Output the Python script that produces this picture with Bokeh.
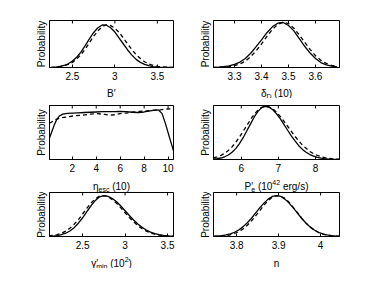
import math
from bokeh.plotting import figure
from bokeh.layouts import row, column
from bokeh.models import FixedTicker, Range1d
from bokeh.core.properties import value
from bokeh.embed import file_html
from bokeh.resources import INLINE

FONT = "Liberation Sans"

# ---------------- data ----------------
# Panel 1: B'
b_x = [2.25, 2.30, 2.35, 2.40, 2.45, 2.50, 2.55, 2.60, 2.65, 2.70, 2.75, 2.80, 2.85, 2.90, 2.95,
       3.00, 3.05, 3.10, 3.15, 3.20, 3.25, 3.30, 3.35, 3.40, 3.45, 3.50, 3.55, 3.60, 3.65, 3.70]
b_solid = [0.005, 0.011, 0.023, 0.047, 0.087, 0.15, 0.24, 0.36, 0.51, 0.67, 0.82, 0.93, 0.995, 0.99, 0.93,
           0.83, 0.69, 0.55, 0.41, 0.29, 0.19, 0.12, 0.073, 0.042, 0.022, 0.011, 0.005, 0.002, 0.001, 0.0]
b_dash = [0.004, 0.01, 0.02, 0.039, 0.071, 0.12, 0.20, 0.30, 0.43, 0.58, 0.73, 0.86, 0.955, 1.0, 0.98,
          0.92, 0.82, 0.69, 0.55, 0.42, 0.30, 0.21, 0.135, 0.083, 0.05, 0.027, 0.014, 0.007, 0.003, 0.001]
b_ticks = [2.5, 3, 3.5]
b_labels = ["2.5", "3", "3.5"]

# Panel 2: delta_D (10)
d_x = [3.22, 3.24, 3.26, 3.28, 3.30, 3.32, 3.34, 3.36, 3.38, 3.40, 3.42, 3.44, 3.46, 3.48,
       3.50, 3.52, 3.54, 3.56, 3.58, 3.60, 3.62, 3.64, 3.66, 3.68]
d_solid = [0.003, 0.008, 0.017, 0.035, 0.068, 0.12, 0.20, 0.315, 0.46, 0.61, 0.77, 0.90, 0.98, 0.996,
           0.93, 0.81, 0.64, 0.47, 0.32, 0.20, 0.11, 0.06, 0.029, 0.013]
d_dash = [0.001, 0.004, 0.009, 0.019, 0.041, 0.08, 0.14, 0.24, 0.37, 0.52, 0.69, 0.84, 0.955, 1.0,
          0.97, 0.87, 0.72, 0.56, 0.40, 0.26, 0.16, 0.09, 0.047, 0.023]
d_ticks = [3.3, 3.4, 3.5, 3.6]
d_labels = ["3.3", "3.4", "3.5", "3.6"]

# Panel 3: eta_esc (10)
e_x_solid = [0.1, 0.3, 0.5, 0.7, 0.9, 1.2, 1.6, 2.0, 2.5, 3.0, 3.5, 4.0, 4.5, 5.0, 5.5, 6.0, 6.5,
             7.0, 7.5, 8.0, 8.5, 9.0, 9.2, 9.5, 9.8, 10.1, 10.45]
e_solid = [0.40, 0.52, 0.64, 0.74, 0.80, 0.84, 0.855, 0.86, 0.865, 0.87, 0.875, 0.88, 0.885, 0.885,
           0.885, 0.89, 0.885, 0.875, 0.87, 0.88, 0.90, 0.92, 0.915, 0.85, 0.65, 0.42, 0.16]
e_x_dash = [0.1, 0.6, 1.0, 1.6, 2.2, 2.9, 3.5, 4.1, 4.7, 5.2, 5.6, 6.0, 6.5, 7.1, 7.6, 8.2, 8.8,
            9.35, 9.9, 10.45]
e_dash = [0.67, 0.74, 0.77, 0.79, 0.81, 0.82, 0.84, 0.85, 0.835, 0.82, 0.83, 0.85, 0.86, 0.88,
          0.89, 0.90, 0.91, 0.92, 0.935, 0.94]
e_ticks = [2, 4, 6, 8, 10]
e_labels = ["2", "4", "6", "8", "10"]

# Panel 4: P'_e (10^42 erg/s)
p_x = [5.25, 5.35, 5.45, 5.55, 5.65, 5.75, 5.85, 5.95, 6.05, 6.15, 6.25, 6.35, 6.45, 6.55, 6.65,
       6.75, 6.85, 6.95, 7.05, 7.15, 7.25, 7.35, 7.45, 7.55, 7.65, 7.75, 7.85, 7.95, 8.05, 8.15,
       8.25, 8.35, 8.45, 8.55, 8.65]
p_solid = [0.008, 0.015, 0.028, 0.051, 0.085, 0.135, 0.205, 0.30, 0.41, 0.54, 0.67, 0.80, 0.905, 0.975, 1.0,
           0.984, 0.936, 0.86, 0.77, 0.66, 0.55, 0.445, 0.35, 0.26, 0.19, 0.135, 0.093, 0.062, 0.039, 0.024,
           0.015, 0.008, 0.005, 0.003, 0.001]
p_dash = [0.031, 0.05, 0.077, 0.115, 0.17, 0.236, 0.32, 0.42, 0.53, 0.64, 0.75, 0.85, 0.93, 0.98, 1.0,
          0.987, 0.95, 0.89, 0.81, 0.72, 0.625, 0.53, 0.435, 0.35, 0.27, 0.21, 0.15, 0.11, 0.078, 0.053,
          0.036, 0.023, 0.015, 0.009, 0.005]
p_ticks = [6, 7, 8]
p_labels = ["6", "7", "8"]

# Panel 5: gamma'_min (10^2)
g_x = [2.10, 2.15, 2.20, 2.25, 2.30, 2.35, 2.40, 2.45, 2.50, 2.55, 2.60, 2.65, 2.70, 2.75, 2.80,
       2.85, 2.90, 2.95, 3.00, 3.05, 3.10, 3.15, 3.20, 3.25, 3.30, 3.35, 3.40, 3.45, 3.50, 3.55, 3.58]
g_solid = [0.005, 0.011, 0.023, 0.044, 0.08, 0.135, 0.216, 0.325, 0.458, 0.607, 0.755, 0.8825, 0.969, 1.0, 0.982,
           0.929, 0.847, 0.744, 0.63, 0.514, 0.404, 0.306, 0.223, 0.157, 0.107, 0.07, 0.044, 0.027, 0.016, 0.009, 0.006]
g_dash = [0.013, 0.025, 0.045, 0.078, 0.13, 0.20, 0.30, 0.41, 0.55, 0.69, 0.82, 0.925, 0.987, 0.998, 0.968,
          0.90, 0.81, 0.70, 0.58, 0.465, 0.36, 0.265, 0.19, 0.13, 0.085, 0.055, 0.033, 0.02, 0.011, 0.006, 0.004]
g_ticks = [2.5, 3, 3.5]
g_labels = ["2.5", "3", "3.5"]

# Panel 6: n
n_x = [3.745, 3.755, 3.765, 3.775, 3.785, 3.795, 3.805, 3.815, 3.825, 3.835, 3.845, 3.855, 3.865, 3.875,
       3.885, 3.895, 3.905, 3.915, 3.925, 3.935, 3.945, 3.955, 3.965, 3.975, 3.985, 3.995, 4.005, 4.015,
       4.025, 4.035, 4.045]
n_solid = [0.006, 0.012, 0.022, 0.039, 0.065, 0.104, 0.16, 0.235, 0.33, 0.44, 0.57, 0.70, 0.815, 0.913,
           0.978, 1.0, 0.978, 0.913, 0.815, 0.70, 0.57, 0.44, 0.33, 0.235, 0.16, 0.104, 0.065, 0.039,
           0.022, 0.012, 0.006]
n_dash = [0.003, 0.006, 0.0125, 0.024, 0.043, 0.073, 0.118, 0.18, 0.27, 0.375, 0.50, 0.63, 0.765, 0.88,
          0.96, 0.998, 0.988, 0.93, 0.835, 0.71, 0.58, 0.45, 0.33, 0.23, 0.155, 0.097, 0.059, 0.034,
          0.019, 0.01, 0.005]
n_ticks = [3.8, 3.9, 4]
n_labels = ["3.8", "3.9", "4"]

YLABEL = "Probability"

# x-axis labels: pieces of (text, font px, baseline shift px, advances)
b_xlabel = [("B′", 10, 0, True)]
d_xlabel = [("δ", 10, 0, True), ("D", 7, -3, True), (" (10)", 10, 0, True)]
e_xlabel = [("η", 10, 0, True), ("esc", 7, -3, True), (" (10)", 10, 0, True)]
p_xlabel = [("P", 10, 0, True), ("′", 10, 0, False), ("e", 7, -3, True), (" (10", 10, 0, True),
            ("42", 7, 4, True), (" erg/s)", 10, 0, True)]
g_xlabel = [("γ", 10, 0, True), ("′", 10, 0, False), ("min", 7, -3, True), (" (10", 10, 0, True),
            ("2", 7, 4, True), (")", 10, 0, True)]
n_xlabel = [("n", 10, 0, True)]

# ---------------- helpers ----------------
CW = {"0": 556, "1": 556, "2": 556, "3": 556, "4": 556, "5": 556, "6": 556, "7": 556, "8": 556, "9": 556,
      ".": 278, " ": 278, "(": 333, ")": 333, "/": 278, "B": 667, "P": 667, "D": 722, "e": 556, "r": 333,
      "g": 556, "s": 500, "c": 500, "m": 833, "i": 222, "n": 556, "δ": 556, "η": 556, "γ": 500, "′": 230}


def tw(s, size):
    return sum(CW.get(ch, 556) for ch in s) * size / 1000.0


def panel(xs, ys, xd, yd, xr, ytop, ticks, tlabels, width, height, bl, br, bt, bb):
    p = figure(width=width, height=height, x_range=Range1d(*xr), y_range=Range1d(0, ytop),
               output_backend="svg", toolbar_location=None,
               min_border_left=bl, min_border_right=br, min_border_top=bt, min_border_bottom=bb)
    p.xgrid.visible = False
    p.ygrid.visible = False
    p.outline_line_color = "black"
    p.outline_line_alpha = 1.0
    p.outline_line_width = 1
    p.line(xs, ys, line_color="black", line_width=1.3)
    p.line(xd, yd, line_color="black", line_width=1.3, line_dash="4 3")

    xa = p.xaxis[0]
    xa.ticker = FixedTicker(ticks=ticks)
    xa.major_label_overrides = {t: l for t, l in zip(ticks, tlabels)}
    xa.major_tick_in = 3
    xa.major_tick_out = 0
    xa.minor_tick_line_color = None
    xa.major_label_standoff = 4
    xa.major_label_text_font = FONT
    xa.major_label_text_font_size = "10px"
    xa.major_label_text_color = "black"
    xa.axis_line_color = "black"
    xa.major_tick_line_color = "black"

    # tick marks on the top edge, pointing inward (outer half clipped by the frame)
    p.scatter(x=ticks, y=[ytop] * len(ticks), marker="dash", angle=math.pi / 2, size=6,
              line_color="black", line_width=1)

    ya = p.yaxis[0]
    ya.ticker = FixedTicker(ticks=[])
    ya.major_tick_line_color = None
    ya.minor_tick_line_color = None
    ya.axis_label = YLABEL
    ya.axis_label_text_font = FONT
    ya.axis_label_text_font_size = "10px"
    ya.axis_label_text_font_style = "normal"
    ya.axis_label_text_color = "black"
    ya.axis_label_standoff = 3
    ya.axis_line_color = "black"
    return p


def strip(width, height, base, left_pieces, left_center, right_pieces, right_center):
    s = figure(width=width, height=height, x_range=Range1d(0, width), y_range=Range1d(0, height),
               output_backend="svg", toolbar_location=None, x_axis_type=None, y_axis_type=None,
               min_border=0, min_border_left=0, min_border_right=0, min_border_top=0, min_border_bottom=0)
    s.grid.visible = False
    s.outline_line_color = None
    for pieces, xc in ((left_pieces, left_center), (right_pieces, right_center)):
        total = sum(tw(t, sz) for t, sz, dy, adv in pieces if adv)
        cur = xc - total / 2.0
        for t, sz, dy, adv in pieces:
            lead = len(t) - len(t.lstrip(" "))
            s.text(x=[cur + tw(" " * lead, sz)], y=[base + dy], text=[t.strip(" ")], text_font=value(FONT),
                   text_font_size=value(f"{sz}px"), text_color="black",
                   text_align="left", text_baseline="alphabetic")
            if adv:
                cur += tw(t, sz)
    return s


def split_words(pieces):
    # break pieces with inner spaces into separate words so SVG keeps the spacing
    out = []
    for t, sz, dy, adv in pieces:
        lead = " " * (len(t) - len(t.lstrip(" ")))
        words = t.strip(" ").split(" ")
        for i, w in enumerate(words):
            prefix = lead if i == 0 else " "
            out.append((prefix + w, sz, dy, adv))
    return out


p_xlabel = split_words(p_xlabel)

LW, RW = 187, 186
LBL, LBR = 49, 14
RBL, RBR = 26, 34
LC = LBL + (LW - LBL - LBR) / 2.0
RC = LW + RBL + (RW - RBL - RBR) / 2.0

p1 = panel(b_x, b_solid, b_x, b_dash, (2.23, 3.69), 1.10, b_ticks, b_labels, LW, 83, LBL, LBR, 20, 16)
p2 = panel(d_x, d_solid, d_x, d_dash, (3.222, 3.689), 1.04, d_ticks, d_labels, RW, 83, RBL, RBR, 20, 16)
s1 = strip(LW + RW, 15, 5.5, b_xlabel, LC, d_xlabel, RC)

p3 = panel(e_x_solid, e_solid, e_x_dash, e_dash, (0.1, 10.45), 1.0, e_ticks, e_labels, LW, 77, LBL, LBR, 7, 16)
p4 = panel(p_x, p_solid, p_x, p_dash, (5.25, 8.65), 1.015, p_ticks, p_labels, RW, 77, RBL, RBR, 7, 16)
s2 = strip(LW + RW, 17, 6.0, e_xlabel, LC, p_xlabel, RC)

p5 = panel(g_x, g_solid, g_x, g_dash, (2.11, 3.57), 1.075, g_ticks, g_labels, LW, 60, LBL, LBR, 0, 16)
p6 = panel(n_x, n_solid, n_x, n_dash, (3.745, 4.045), 1.075, n_ticks, n_labels, RW, 60, RBL, RBR, 0, 16)
s3 = strip(LW + RW, 16, 5.5, g_xlabel, LC, n_xlabel, RC)

layout = column(row(p1, p2), s1, row(p3, p4), s2, row(p5, p6), s3)

open("out.html", "w").write(file_html(layout, INLINE))
